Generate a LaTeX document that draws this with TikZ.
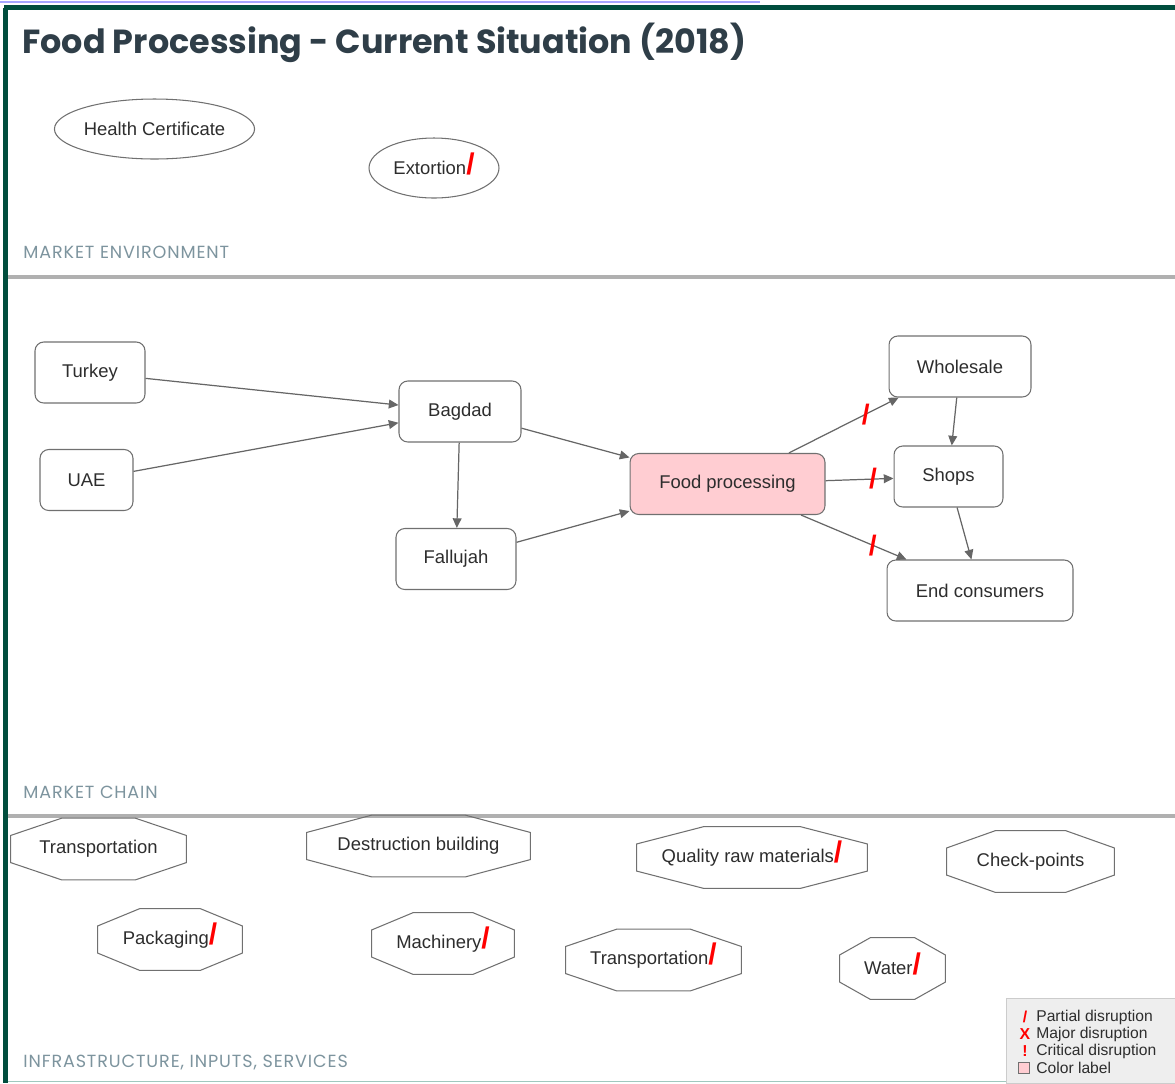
\documentclass[tikz,border=0pt]{standalone}
\usepackage{fontspec}
\setmainfont{Liberation Sans}
\newfontfamily\headfont{Poppins}
\newfontfamily\sectionfont[LetterSpace=5]{Poppins}
\usetikzlibrary{shapes.geometric,arrows.meta,calc}

\definecolor{framegreen}{RGB}{0,77,61}
\definecolor{titleslate}{RGB}{47,62,72}
\definecolor{sectionblue}{RGB}{125,148,158}
\definecolor{linegray}{RGB}{102,102,102}
\definecolor{boxgray}{RGB}{112,112,112}
\definecolor{pinkfill}{RGB}{255,205,210}
\definecolor{textgray}{RGB}{45,45,45}
\definecolor{bottomteal}{RGB}{160,200,190}
\definecolor{legendfill}{RGB}{238,238,238}

\newcommand{\boxfont}{\fontsize{10.5}{12}\selectfont}
\newcommand{\dmark}{\smash{\textcolor{red}{\fontsize{17}{15}\selectfont\bfseries /}}}

\tikzset{
  actor/.style={rectangle, rounded corners=5pt, draw=boxgray, line width=0.6pt,
    text=textgray, font=\boxfont, minimum height=1.22cm},
  envir/.style={ellipse, draw=boxgray, line width=0.6pt, text=textgray,
    font=\boxfont, inner sep=0pt, minimum height=1.2cm},
  infra/.style={rectangle, text=textgray, font=\boxfont, minimum height=1.22cm,
    append after command={\pgfextra{\draw[draw=boxgray, line width=0.6pt]
      ($(\tikzlastnode.north west)!.29!(\tikzlastnode.north east)$) --
      ($(\tikzlastnode.north west)!.71!(\tikzlastnode.north east)$) --
      ($(\tikzlastnode.north east)!.28!(\tikzlastnode.south east)$) --
      ($(\tikzlastnode.north east)!.72!(\tikzlastnode.south east)$) --
      ($(\tikzlastnode.south west)!.71!(\tikzlastnode.south east)$) --
      ($(\tikzlastnode.south west)!.29!(\tikzlastnode.south east)$) --
      ($(\tikzlastnode.north west)!.72!(\tikzlastnode.south west)$) --
      ($(\tikzlastnode.north west)!.28!(\tikzlastnode.south west)$) -- cycle;}}},
  flow/.style={draw=linegray, line width=0.7pt, -{Triangle[length=5.5pt,width=5pt]}},
  cut/.style={text=red, font=\fontsize{16}{16}\selectfont\bfseries, inner sep=0pt},
  section/.style={anchor=base west, text=sectionblue, inner sep=0pt,
    font=\sectionfont\fontsize{10}{11}\selectfont},
  sepline/.style={draw=gray!62, line width=2pt},
  legendtext/.style={anchor=west, inner sep=0pt, text=textgray, font=\fontsize{8.9}{10}\selectfont},
  legendsym/.style={inner sep=0pt, text=red, font=\fontsize{9}{10}\selectfont\bfseries}
}

\begin{document}
\begin{tikzpicture}[x=0.02cm, y=-0.02cm]
      \useasboundingbox (0,0) rectangle (1175,1083);

      % Draw the frame and the section lines
      \draw[blue!35, line width=0.6pt] (0,2) -- (760,2);
      \draw[framegreen, line width=2.5pt] (4,7.5) -- (1175,7.5);
      \draw[framegreen, line width=2.3pt] (5.5,7.5) -- (5.5,1083);
      \draw[bottomteal, line width=0.8pt] (8,1081.5) -- (1175,1081.5);
      \draw[sepline] (8,277) -- (1175,277);
      \draw[sepline] (8,816) -- (1175,816);

      % Title and section labels
      \node[anchor=base west, inner sep=0pt, text=titleslate, font=\headfont\bfseries\fontsize{19}{22}\selectfont]
        (title) at (22,53) {Food Processing - Current Situation (2018)};
      \node[section] (envlabel) at (23,258) {MARKET ENVIRONMENT};
      \node[section] (chainlabel) at (23,798) {MARKET CHAIN};
      \node[section] (infralabel) at (23,1067) {INFRASTRUCTURE, INPUTS, SERVICES};

      % Market environment
      \node[envir, minimum width=3.98cm] (health) at (154.5,129) {Health Certificate};
      \node[envir, minimum width=2.6cm] (extort) at (434,168) {Extortion\dmark};

      % Market chain
      \node[actor, minimum width=2.2cm] (turkey) at (90,372.5) {Turkey};
      \node[actor, minimum width=1.86cm] (uae) at (86.5,480) {UAE};
      \node[actor, minimum width=2.44cm] (bagdad) at (460,411.5) {Bagdad};
      \node[actor, minimum width=2.4cm] (fallujah) at (456,559) {Fallujah};
      \node[actor, minimum width=3.9cm, fill=pinkfill] (food) at (727.5,484) {Food processing};
      \node[actor, minimum width=2.84cm] (wholesale) at (960,366.5) {Wholesale};
      \node[actor, minimum width=2.18cm] (shops) at (948.5,476.5) {Shops};
      \node[actor, minimum width=3.72cm] (endcons) at (980,590.5) {End consumers};

      \draw[flow] (turkey) -- (bagdad);
      \draw[flow] (uae) -- (bagdad);
      \draw[flow] (bagdad) -- (fallujah);
      \draw[flow] (bagdad) -- (food);
      \draw[flow] (fallujah) -- (food);
      \draw[flow] (food) -- node[cut, pos=0.7] {/} (wholesale);
      \draw[flow] (food) -- node[cut, pos=0.7] {/} (shops);
      \draw[flow] (food) -- node[cut, pos=0.68] {/} (endcons);
      \draw[flow] (wholesale) -- (shops);
      \draw[flow] (shops) -- (endcons);

      % Infrastructure, inputs, services
      \node[infra, minimum width=3.5cm] (transport) at (98.5,849) {Transportation};
      \node[infra, minimum width=4.46cm] (destruct) at (418.5,846) {Destruction building};
      \node[infra, minimum width=4.6cm] (rawmat) at (752,857.5) {Quality raw materials\dmark};
      \node[infra, minimum width=3.34cm] (checkp) at (1030.5,861.5) {Check-points};
      \node[infra, minimum width=2.88cm] (packag) at (170,939.5) {Packaging\dmark};
      \node[infra, minimum width=2.84cm] (machin) at (443,943.5) {Machinery\dmark};
      \node[infra, minimum width=3.5cm] (transtwo) at (653.5,960) {Transportation\dmark};
      \node[infra, minimum width=2.1cm] (water) at (892.5,968.5) {Water\dmark};

      % Legend
      \node[draw=gray!40, fill=legendfill, anchor=north west, minimum width=3.6cm, minimum height=1.7cm,
        inner sep=0pt] (legend) at (1006,998) {};
      \node[legendsym] (symone) at (1025,1017) {/};
      \node[legendtext] (txtone) at (1036,1017) {Partial disruption};
      \node[legendsym] (symtwo) at (1025,1034) {X};
      \node[legendtext] (txttwo) at (1036,1034) {Major disruption};
      \node[legendsym] (symthree) at (1025,1051) {!};
      \node[legendtext] (txtthree) at (1036,1051) {Critical disruption};
      \node[draw=boxgray, fill=pinkfill, minimum size=0.23cm, inner sep=0pt, line width=0.5pt]
        (swatch) at (1024,1068) {};
      \node[legendtext] (txtfour) at (1036,1068) {Color label};

      \end{tikzpicture}
\end{document}
